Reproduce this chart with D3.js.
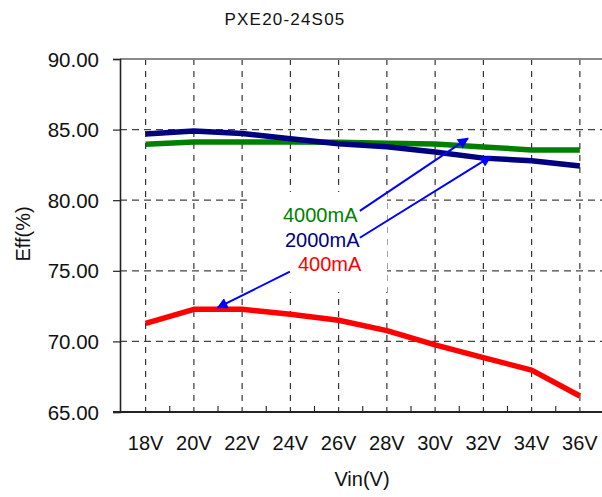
<!DOCTYPE html>
<html>
<head>
<meta charset="utf-8">
<script src="https://cdn.jsdelivr.net/npm/d3@7"></script>
<style>
  body { margin: 0; background: #fff; }
  text { font-family: "Liberation Sans", Arial, sans-serif; }
</style>
</head>
<body>
<script>
// efficiency vs input voltage
var vin = ["18V", "20V", "22V", "24V", "26V", "28V", "30V", "32V", "34V", "36V"];
var eff400 = [71.28, 72.27, 72.27, 71.92, 71.5, 70.76, 69.75, 68.85, 67.97, 66.13];
var eff2000 = [84.69, 84.9, 84.72, 84.35, 84.0, 83.78, 83.42, 82.98, 82.8, 82.42];
var eff4000 = [83.96, 84.12, 84.12, 84.12, 84.1, 84.03, 83.98, 83.77, 83.56, 83.56];
var yTicks = [65, 70, 75, 80, 85, 90];

var width = 602, height = 497;
var plotLeft = 120, plotTop = 59, plotBottom = 412, plotRight = 604;

var svg = d3.select("body").append("svg")
    .attr("width", width)
    .attr("height", height);

var x = d3.scaleBand()
    .domain(vin)
    .range([121.5, plotRight]);

var y = d3.scaleLinear()
    .domain([65, 90])
    .range([plotBottom, plotTop]);

// fractional category index -> px, for the annotation arrows
var xi = d3.scaleLinear()
    .domain([0, vin.length - 1])
    .range([x(vin[0]) + x.bandwidth() / 2, x(vin[vin.length - 1]) + x.bandwidth() / 2]);

//horizontal dashed grid
svg.selectAll(".hgrid")
    .data(yTicks.filter(function(d){ return d > 65 && d < 90; }))
    .enter()
    .append("line")
    .attr("x1", plotLeft).attr("x2", width)
    .attr("y1", function(d){ return y(d); })
    .attr("y2", function(d){ return y(d); })
    .attr("stroke", "#444")
    .attr("stroke-width", 1.2)
    .attr("stroke-dasharray", "7,5");

//vertical dashed grid
svg.selectAll(".vgrid")
    .data(vin)
    .enter()
    .append("line")
    .attr("x1", function(d){ return x(d) + x.bandwidth() / 2; })
    .attr("x2", function(d){ return x(d) + x.bandwidth() / 2; })
    .attr("y1", plotTop).attr("y2", plotBottom)
    .attr("stroke", "#222")
    .attr("stroke-width", 1.1)
    .attr("stroke-dasharray", "6,6");

//top border
svg.append("line")
    .attr("x1", plotLeft).attr("x2", width)
    .attr("y1", y(90)).attr("y2", y(90))
    .attr("stroke", "#8a8a8a")
    .attr("stroke-width", 2);

//white box behind the labels
svg.append("rect")
    .attr("x", 252).attr("y", 192)
    .attr("width", 135).attr("height", 100)
    .attr("fill", "#fff");

//y axis
var yAxis = svg.append("g")
    .attr("transform", "translate(" + plotLeft + ",0)")
    .call(d3.axisLeft(y).tickValues(yTicks).tickSize(7).tickPadding(14)
        .tickFormat(d3.format(".2f")));
yAxis.select(".domain").attr("stroke", "#222").attr("stroke-width", 1.6);
yAxis.selectAll(".tick line").attr("stroke", "#222").attr("stroke-width", 1.2);
yAxis.selectAll("text")
    .attr("font-size", 20.5)
    .attr("fill", "#111")
    .attr("dy", "0.35em");

//x axis
var xAxis = svg.append("g")
    .attr("transform", "translate(0," + plotBottom + ")")
    .call(d3.axisBottom(x).tickSize(0).tickPadding(24));
xAxis.select(".domain").remove();
xAxis.selectAll("text")
    .attr("font-size", 20)
    .attr("fill", "#111")
    .attr("dy", "0.71em");
svg.append("line")
    .attr("x1", plotLeft - 7).attr("x2", width)
    .attr("y1", plotBottom).attr("y2", plotBottom)
    .attr("stroke", "#222")
    .attr("stroke-width", 1.8);

//minor ticks on band edges
svg.selectAll(".minor")
    .data(vin.slice(1))
    .enter()
    .append("line")
    .attr("x1", function(d){ return x(d); })
    .attr("x2", function(d){ return x(d); })
    .attr("y1", plotBottom - 6).attr("y2", plotBottom)
    .attr("stroke", "#222")
    .attr("stroke-width", 1.1);

//series lines
var line = d3.line()
    .x(function(d, i){ return x(vin[i]) + x.bandwidth() / 2; })
    .y(function(d){ return y(d); });

var series = [
    { values: eff400, color: "#ff0000" },
    { values: eff4000, color: "#008000" },
    { values: eff2000, color: "#000080" }
];

svg.selectAll(".series")
    .data(series)
    .enter()
    .append("path")
    .attr("d", function(d){ return line(d.values); })
    .attr("fill", "none")
    .attr("stroke", function(d){ return d.color; })
    .attr("stroke-width", 5.5)
    .attr("stroke-linejoin", "round");

//labels
var labels = [
    { text: "4000mA", color: "#008000", x: 283, y: 221.5 },
    { text: "2000mA", color: "#000080", x: 285, y: 246.5 },
    { text: "400mA", color: "#ff0000", x: 298, y: 270.5 }
];
svg.selectAll(".lbl")
    .data(labels)
    .enter()
    .append("text")
    .attr("x", function(d){ return d.x; })
    .attr("y", function(d){ return d.y; })
    .attr("font-size", 20)
    .attr("fill", function(d){ return d.color; })
    .text(function(d){ return d.text; });

//arrows: [from index, from value, to index, to value]
var arrows = [
    [4.44, 79.24, 6.68, 84.38],
    [4.44, 77.34, 7.15, 83.08],
    [2.99, 74.94, 1.49, 72.39]
];

svg.append("defs").append("marker")
    .attr("id", "head")
    .attr("viewBox", "0 0 10 10")
    .attr("refX", 9).attr("refY", 5)
    .attr("markerWidth", 7).attr("markerHeight", 5.5)
    .attr("markerUnits", "strokeWidth")
    .attr("orient", "auto")
    .append("path")
    .attr("d", "M0,0 L10,5 L0,10 Z")
    .attr("fill", "#0000ff");

svg.selectAll(".arrow")
    .data(arrows)
    .enter()
    .append("line")
    .attr("x1", function(d){ return xi(d[0]); })
    .attr("y1", function(d){ return y(d[1]); })
    .attr("x2", function(d){ return xi(d[2]); })
    .attr("y2", function(d){ return y(d[3]); })
    .attr("stroke", "#0000ff")
    .attr("stroke-width", 2)
    .attr("marker-end", "url(#head)");

//title and axis titles
svg.append("text")
    .attr("x", 285).attr("y", 25)
    .attr("text-anchor", "middle")
    .attr("font-size", 17)
    .attr("letter-spacing", 1.2)
    .attr("fill", "#111")
    .text("PXE20-24S05");

svg.append("text")
    .attr("x", 362).attr("y", 486)
    .attr("text-anchor", "middle")
    .attr("font-size", 20)
    .attr("fill", "#111")
    .text("Vin(V)");

svg.append("text")
    .attr("transform", "translate(30,234) rotate(-90)")
    .attr("text-anchor", "middle")
    .attr("font-size", 20)
    .attr("fill", "#111")
    .text("Eff(%)");
</script>
</body>
</html>
